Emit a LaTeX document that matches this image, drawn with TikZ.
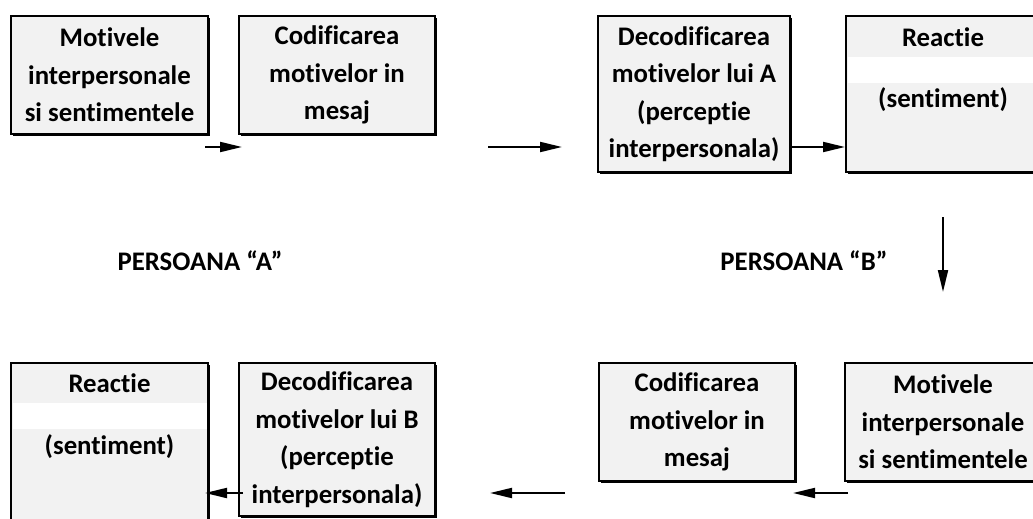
\documentclass[tikz,border=0pt]{standalone}
\usepackage{fontspec}
\setmainfont{Carlito}[Ligatures={NoCommon,NoRare,NoContextual}]
\usetikzlibrary{shadows,arrows.meta}
\definecolor{boxgray}{HTML}{F2F2F2}
\begin{document}
\begin{tikzpicture}[x=1pt,y=-1pt,
 box/.style={draw=black, line width=2pt, fill=boxgray, rectangle, inner sep=0pt, align=center,
   drop shadow={shadow xshift=2pt, shadow yshift=-2pt, fill=black, opacity=1}},
 txt/.style={font=\bfseries\fontsize{26.8}{37.5}\selectfont, align=center, inner sep=0pt},
 band/.style={fill=white, draw=none, inner sep=0pt, minimum height=26pt},
 arr/.style={line width=2pt, -{Triangle[length=22pt,width=10pt]}}]
\useasboundingbox (0,0) rectangle (1033,519);
\clip (0,0) rectangle (1033,519);

% top row
\node[box, txt, minimum width=197pt, minimum height=118pt] (B1) at (109.5,75) {Motivele\\interpersonale\\si sentimentele};
\node[box, txt, minimum width=196pt, minimum height=118pt] (B2) at (337,75) {Codificarea\\motivelor in\\mesaj};
\node[box, txt, minimum width=192pt, minimum height=156pt] (B3) at (694,94) {Decodificarea\\motivelor lui A\\(perceptie\\interpersonala)};
\node[box, minimum width=194pt, minimum height=156pt] (B4) at (943,94) {};
\node[band, minimum width=191pt] (B4band) at (943,70) {};
\node[txt] (B4t1) at (943,37) {Reactie};
\node[txt] (B4t2) at (943,100) {(sentiment)};

% labels
\node[txt] (PA) at (200,261) {PERSOANA “A”};
\node[txt] (PB) at (804,261) {PERSOANA “B”};

% bottom row
\node[box, minimum width=197pt, minimum height=196pt] (B5) at (109.5,461) {};
\node[band, minimum width=194pt] (B5band) at (109.5,416) {};
\node[txt] (B5t1) at (109.5,383) {Reactie};
\node[txt] (B5t2) at (109.5,447) {(sentiment)};
\node[box, txt, minimum width=196pt, minimum height=153pt] (B6) at (337,439.5) {Decodificarea\\motivelor lui B\\(perceptie\\interpersonala)};
\node[box, txt, minimum width=196pt, minimum height=118pt] (B7) at (697,422) {Codificarea\\motivelor in\\mesaj};
\node[box, txt, minimum width=196pt, minimum height=118pt] (B8) at (943,422) {Motivele\\interpersonale\\si sentimentele};

% connector ends
\coordinate (a1s) at (205,147);
\coordinate (a1e) at (242,147);
\coordinate (a2s) at (488,147);
\coordinate (a2e) at (562,147);
\coordinate (a3s) at (B3.east |- a1s);
\coordinate (a3e) at (B4.west |- a1s);
\coordinate (a4s) at (943,217);
\coordinate (a4e) at (943,292);
\coordinate (a5s) at (848,493);
\coordinate (a5e) at (793,493);
\coordinate (a6s) at (565,493);
\coordinate (a6e) at (490,493);
\coordinate (a7s) at (243,493);
\coordinate (a7e) at (205,493);

\draw[arr] (a1s) -- (a1e);
\draw[arr] (a2s) -- (a2e);
\draw[arr] (a3s) -- (a3e);
\draw[arr] (a4s) -- (a4e);
\draw[arr] (a5s) -- (a5e);
\draw[arr] (a6s) -- (a6e);
\draw[arr] (a7s) -- (a7e);
\end{tikzpicture}
\end{document}
